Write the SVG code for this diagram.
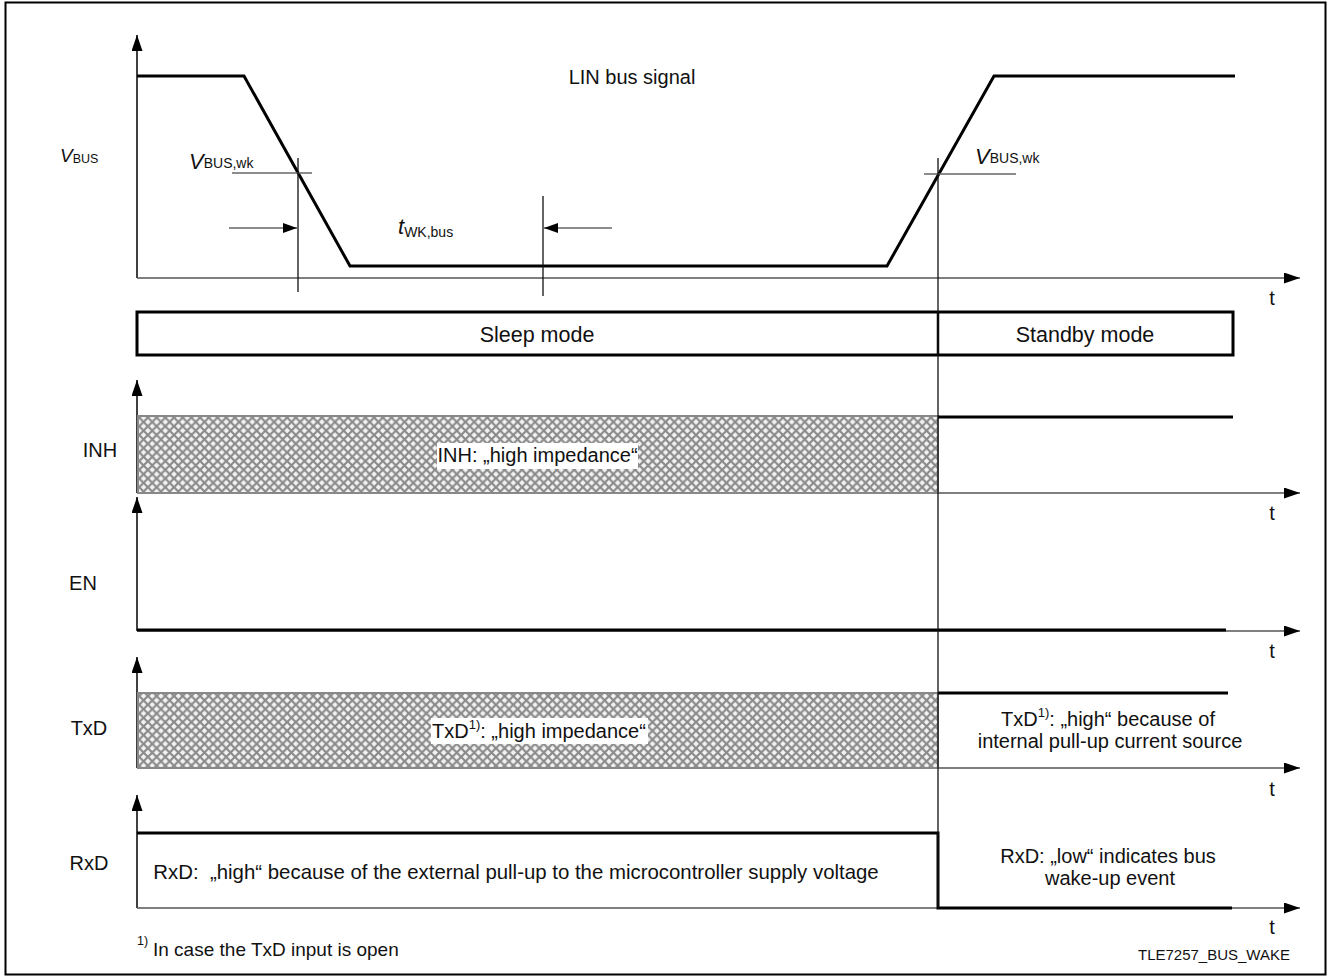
<svg xmlns="http://www.w3.org/2000/svg" width="1330" height="980" viewBox="0 0 1330 980">
<style>
text{font-family:"Liberation Sans",Arial,sans-serif;fill:#111;}
.lbl{font-size:20px;}
.mode{font-size:21.5px;text-anchor:middle;}
.c{text-anchor:middle;}
.axis{stroke:#555;stroke-width:1.6;fill:none;}
.vax{stroke:#111;stroke-width:1.6;fill:none;}
.sig{stroke:#000;stroke-width:3;fill:none;stroke-linejoin:miter;}
.thin{stroke:#111;stroke-width:1.3;fill:none;}
.guide{stroke:#666;stroke-width:1.5;fill:none;}
.hatch{fill:url(#xh);stroke:#888;stroke-width:2;}
.tb{fill:#fff;}
.it{font-style:italic;}
</style>
<defs>
<pattern id="xh" patternUnits="userSpaceOnUse" width="8.7" height="8.7">
<rect width="8.7" height="8.7" fill="#f3f3f3"/>
<path d="M0,0 L8.7,8.7 M8.7,0 L0,8.7" stroke="#8a8a8a" stroke-width="2.2"/>
</pattern>
<marker id="ah" viewBox="0 0 16 11" refX="16" refY="5.5" markerWidth="16" markerHeight="11" markerUnits="userSpaceOnUse" orient="auto">
<path d="M0,0 L16,5.5 L0,11 Z" fill="#000"/>
</marker>
<marker id="ahs" viewBox="0 0 14 10" refX="14" refY="5" markerWidth="14" markerHeight="10" markerUnits="userSpaceOnUse" orient="auto">
<path d="M0,0 L14,5 L0,10 Z" fill="#000"/>
</marker>
</defs>
<rect x="5.5" y="2.5" width="1320" height="972" fill="#fff" stroke="#000" stroke-width="2"/>

<g id="axes">
<path class="vax" d="M137,278 L137,35" marker-end="url(#ah)"/>
<path class="axis" d="M137,278 L1300,278" marker-end="url(#ah)"/>
<path class="vax" d="M137,493 L137,380" marker-end="url(#ah)"/>
<path class="axis" d="M137,493 L1300,493" marker-end="url(#ah)"/>
<path class="vax" d="M137,631 L137,497" marker-end="url(#ah)"/>
<path class="axis" d="M137,631 L1300,631" marker-end="url(#ah)"/>
<path class="vax" d="M137,768 L137,657" marker-end="url(#ah)"/>
<path class="axis" d="M137,768 L1300,768" marker-end="url(#ah)"/>
<path class="vax" d="M137,908 L137,795" marker-end="url(#ah)"/>
<path class="axis" d="M137,908 L1300,908" marker-end="url(#ah)"/>
<text class="lbl" x="1272" y="305" text-anchor="middle">t</text>
<text class="lbl" x="1272" y="520" text-anchor="middle">t</text>
<text class="lbl" x="1272" y="658" text-anchor="middle">t</text>
<text class="lbl" x="1272" y="796" text-anchor="middle">t</text>
<text class="lbl" x="1272" y="934" text-anchor="middle">t</text>
</g>

<g id="vbus">
<text x="60" y="162" class="it" font-size="19">V<tspan font-size="12.5" font-style="normal" dy="1">BUS</tspan></text>
<text class="lbl" x="632" y="84" text-anchor="middle">LIN bus signal</text>
<path class="sig" d="M137,76 L244,76 L350,266 L887,266 L994,76 L1235,76"/>
<path class="guide" d="M232,173 L312,173"/>
<path class="thin" d="M298,158 L298,292"/>
<path class="guide" d="M229,228 L297,228" marker-end="url(#ahs)"/>
<text x="189" y="169" class="it" font-size="22">V<tspan font-size="14" font-style="normal" dy="-1">BUS,wk</tspan></text>
<path class="thin" d="M543,196 L543,296"/>
<path class="guide" d="M612,228 L544,228" marker-end="url(#ahs)"/>
<text x="398" y="234" class="it" font-size="22">t<tspan font-size="14" font-style="normal" dy="3">WK,bus</tspan></text>
<path class="guide" d="M924,174 L1016,174"/>
<text x="975" y="164" class="it" font-size="22">V<tspan font-size="14" font-style="normal" dy="-1">BUS,wk</tspan></text>
</g>

<g id="modes">
<rect x="137" y="312" width="1096" height="43" fill="none" stroke="#000" stroke-width="3"/>
<path d="M938,312 L938,355" stroke="#000" stroke-width="2.5"/>
<text class="mode" x="537" y="342">Sleep mode</text>
<text class="mode" x="1085" y="342">Standby mode</text>
</g>

<g id="inh">
<text class="lbl c" x="100" y="457">INH</text>
<rect class="hatch" x="138" y="416" width="800" height="77"/>
<path class="sig" d="M938,417 L1233,417"/>
<rect class="tb" x="437" y="443" width="201" height="26"/>
<text class="lbl" x="437.5" y="462">INH: „high impedance“</text>
</g>

<g id="en">
<text class="lbl c" x="83" y="590">EN</text>
<path class="sig" d="M137,630 L1226,630"/>
</g>

<g id="txd">
<text class="lbl c" x="89" y="735">TxD</text>
<rect class="hatch" x="138" y="693" width="800" height="75"/>
<path class="sig" d="M938,693 L1228,693"/>
<rect class="tb" x="431" y="718" width="217" height="26"/>
<text class="lbl" x="432" y="738">TxD<tspan font-size="13" dy="-9">1)</tspan><tspan dy="9">: „high impedance“</tspan></text>
<text class="lbl c" x="1108" y="726">TxD<tspan font-size="13" dy="-9">1)</tspan><tspan dy="9">: „high“ because of</tspan></text>
<text class="lbl c" x="1110" y="748">internal pull-up current source</text>
</g>

<g id="rxd">
<text class="lbl c" x="89" y="870">RxD</text>
<path class="sig" d="M137,833 L938,833 L938,908 L1232,908"/>
<text class="c" font-size="20.4" x="516" y="879" xml:space="preserve">RxD:  „high“ because of the external pull-up to the microcontroller supply voltage</text>
<text class="lbl c" x="1108" y="863">RxD: „low“ indicates bus</text>
<text class="lbl c" x="1110" y="885">wake-up event</text>
</g>

<g id="connectors">
<path class="thin" d="M938,158 L938,908"/>
</g>

<g id="notes">
<text x="137" y="945" font-size="12.5">1)</text>
<text x="153" y="956" font-size="19">In case the TxD input is open</text>
<text x="1290" y="960" font-size="15" text-anchor="end">TLE7257_BUS_WAKE</text>
</g>
</svg>
